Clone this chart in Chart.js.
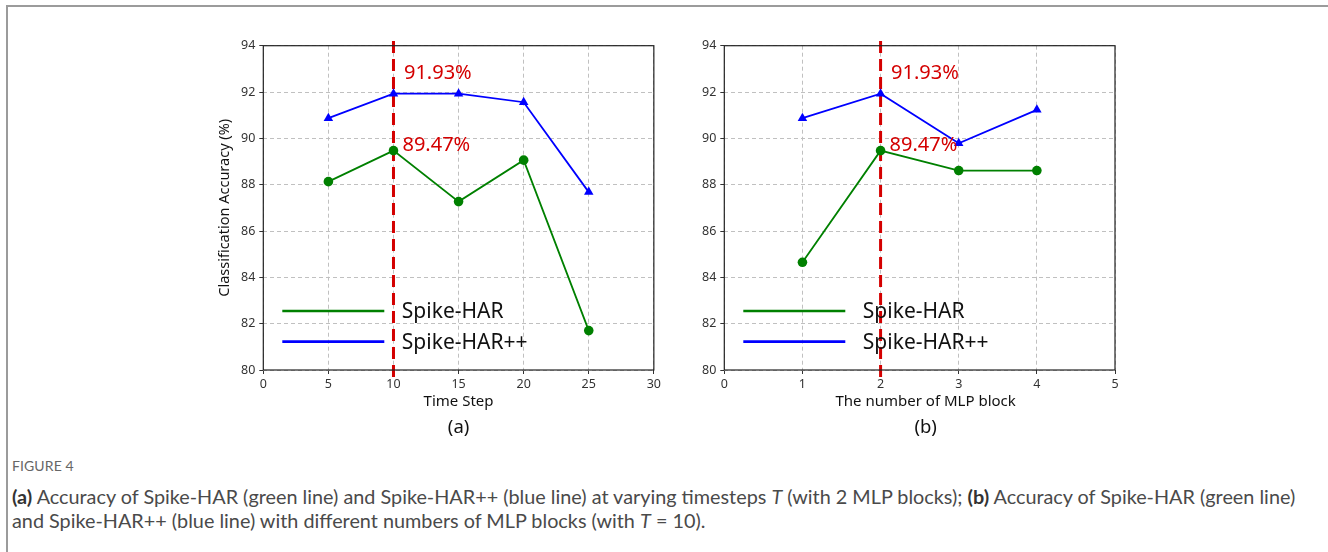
<!DOCTYPE html>
<html><head><meta charset="utf-8">
<script src="https://cdn.jsdelivr.net/npm/chart.js@4.4.0/dist/chart.umd.min.js"></script>
<style>
html,body{margin:0;padding:0;background:#fff;}
body{width:1328px;height:552px;position:relative;overflow:hidden;font-family:"Noto Sans",sans-serif;}
#frame{position:absolute;left:6px;top:5px;width:1340px;height:560px;border-top:2px solid #9b9b9b;border-left:2px solid #9b9b9b;}
canvas{position:absolute;top:0;}
#ca{left:0}
#cb{left:664px}
#fig{position:absolute;left:12px;top:457px;font-family:Lato,sans-serif;font-size:14px;line-height:18px;color:#666;letter-spacing:0.1px}
#cap{position:absolute;left:12px;top:484px;font-family:Lato,sans-serif;font-size:16px;line-height:24px;color:#4a4a4a;white-space:nowrap}
#cap b{font-weight:700;color:#333}
</style></head>
<body>
<div id="frame"></div>
<canvas id="ca" width="664" height="450"></canvas>
<canvas id="cb" width="664" height="450"></canvas>
<div id="fig">FIGURE 4</div>
<div id="cap"><span id="l1"><b>(a)</b> Accuracy of Spike-HAR (green line) and Spike-HAR++ (blue line) at varying timesteps <i>T</i> (with 2 MLP blocks); <b>(b)</b> Accuracy of Spike-HAR (green line)</span><br>and Spike-HAR++ (blue line) with different numbers of MLP blocks (with <i>T</i>&nbsp;=&nbsp;10).</div>
<script>
// ---- data ----
const timeSteps = [5, 10, 15, 20, 25];
const harByT = [88.13, 89.47, 87.27, 89.06, 81.70];
const harPPByT = [90.87, 91.93, 91.93, 91.56, 87.68];
const mlpBlocks = [1, 2, 3, 4];
const harByM = [84.65, 89.47, 88.61, 88.61];
const harPPByM = [90.87, 91.93, 89.79, 91.23];
const yTicks = [80, 94, 2];           // min, max, step
const xTicksA = [0, 30, 5];
const xTicksB = [0, 5, 1];
const seriesNames = ['Spike-HAR', 'Spike-HAR++'];
const bestTimeStep = 10;
const bestMlp = 2;
const refLineSpan = [94.2, 79.7];
const annotText = ['91.93%', '89.47%'];
const annotY = [92.83, 89.68];

const GREEN = '#008000', BLUE = '#0000ff', RED = '#d40000';

const overlay = {
  id: 'overlay',
  beforeDatasetsDraw(chart, args, o) {
    const {ctx, scales: {x, y}} = chart;
    const rx = x.getPixelForValue(o.refX);
    ctx.save();
    ctx.strokeStyle = RED; ctx.lineWidth = 3; ctx.setLineDash([12, 6]);
    ctx.beginPath();
    ctx.moveTo(rx, y.getPixelForValue(refLineSpan[0]));
    ctx.lineTo(rx, y.getPixelForValue(refLineSpan[1]));
    ctx.stroke();
    ctx.restore();
  },
  afterDatasetsDraw(chart, args, o) {
    const {ctx, chartArea: a, scales: {x, y}} = chart;
    ctx.save();
    ctx.setLineDash([]);
    ctx.strokeStyle = '#222'; ctx.lineWidth = 1.2;
    ctx.strokeRect(a.left, a.top, a.right - a.left, a.bottom - a.top);
    const rx = x.getPixelForValue(o.refX);
    ctx.fillStyle = RED;
    ctx.font = '20px "Noto Sans"';
    ctx.textBaseline = 'middle'; ctx.textAlign = 'left';
    annotText.forEach((t, i) => ctx.fillText(t, rx + 9 + (i === 0 ? 1.5 : 0), y.getPixelForValue(annotY[i])));
    // legend
    const cols = [GREEN, BLUE];
    cols.forEach((c, i) => {
      const ly = a.bottom - 59 + i * 30.7;
      ctx.strokeStyle = c; ctx.lineWidth = 2.7;
      ctx.beginPath(); ctx.moveTo(a.left + 19, ly); ctx.lineTo(a.left + 121, ly); ctx.stroke();
      ctx.fillStyle = '#111';
      ctx.font = '21px "Noto Sans"';
      ctx.fillText(seriesNames[i], a.left + 138.5, ly + 1);
    });
    // axis titles
    const cx = (a.left + a.right) / 2 + o.shift;
    ctx.fillStyle = '#111'; ctx.textAlign = 'center';
    ctx.font = '15px "Noto Sans"';
    ctx.fillText(o.xTitle, cx, a.bottom + 32);
    ctx.font = '18.5px "Noto Sans"';
    ctx.fillText(o.sub, cx, a.bottom + 58);
    if (o.yTitle) {
      ctx.save();
      ctx.translate(a.left - 38, (a.top + a.bottom) / 2);
      ctx.rotate(-Math.PI / 2);
      ctx.font = '14.5px "Noto Sans"';
      ctx.fillText(o.yTitle, 0, 0);
      ctx.restore();
    }
    ctx.restore();
  }
};

function pts(xs, ys) { return xs.map((v, i) => ({x: v, y: ys[i]})); }

const gridOpts = {color: '#c0c0c0', tickColor: '#333', tickLength: 4, lineWidth: 1, tickBorderDash: []};
const borderOpts = {display: false, dash: [4, 3]};

function make(id, xs, g, b, xt, ov, pad) {
  return new Chart(document.getElementById(id), {
    type: 'line',
    data: {
      datasets: [
        {label: seriesNames[0], data: pts(xs, g), borderColor: GREEN, backgroundColor: GREEN,
         borderWidth: 1.8, pointStyle: 'circle', pointRadius: 4.8, pointBorderWidth: 0, tension: 0},
        {label: seriesNames[1], data: pts(xs, b), borderColor: BLUE, backgroundColor: BLUE,
         borderWidth: 1.8, pointStyle: 'triangle', pointRadius: 5.5, pointBorderWidth: 0, tension: 0}
      ]
    },
    options: {
      responsive: false, animation: false, devicePixelRatio: 1,
      layout: {padding: pad},
      plugins: {legend: {display: false}, tooltip: {enabled: false}, overlay: ov},
      scales: {
        x: {type: 'linear', min: xt[0], max: xt[1],
            ticks: {stepSize: xt[2], color: '#333', font: {family: 'Noto Sans', size: 12.5}, padding: 3, maxRotation: 0},
            grid: gridOpts, border: borderOpts,
            afterFit: s => { s.height = 60; }},
        y: {min: yTicks[0], max: yTicks[1],
            ticks: {stepSize: yTicks[2], color: '#333', font: {family: 'Noto Sans', size: 12.5}, padding: 4},
            grid: gridOpts, border: borderOpts,
            afterFit: s => { s.width = 50; }}
      }
    },
    plugins: [overlay]
  });
}

make('ca', timeSteps, harByT, harPPByT, xTicksA,
  {refX: bestTimeStep, xTitle: 'Time Step', sub: '(a)', yTitle: 'Classification Accuracy (%)', shift: 0},
  {left: 213.3, right: 10, top: 45.7, bottom: 20});
make('cb', mlpBlocks, harByM, harPPByM, xTicksB,
  {refX: bestMlp, xTitle: 'The number of MLP block', sub: '(b)', yTitle: null, shift: 6},
  {left: 10.3, right: 213, top: 45.7, bottom: 20});

// fit caption first line to reference width
const cap = document.getElementById('cap');
const l1 = document.getElementById('l1');
const w = l1.getBoundingClientRect().width;
cap.style.fontSize = (16 * 1284 / w).toFixed(2) + 'px';
</script>
</body></html>
